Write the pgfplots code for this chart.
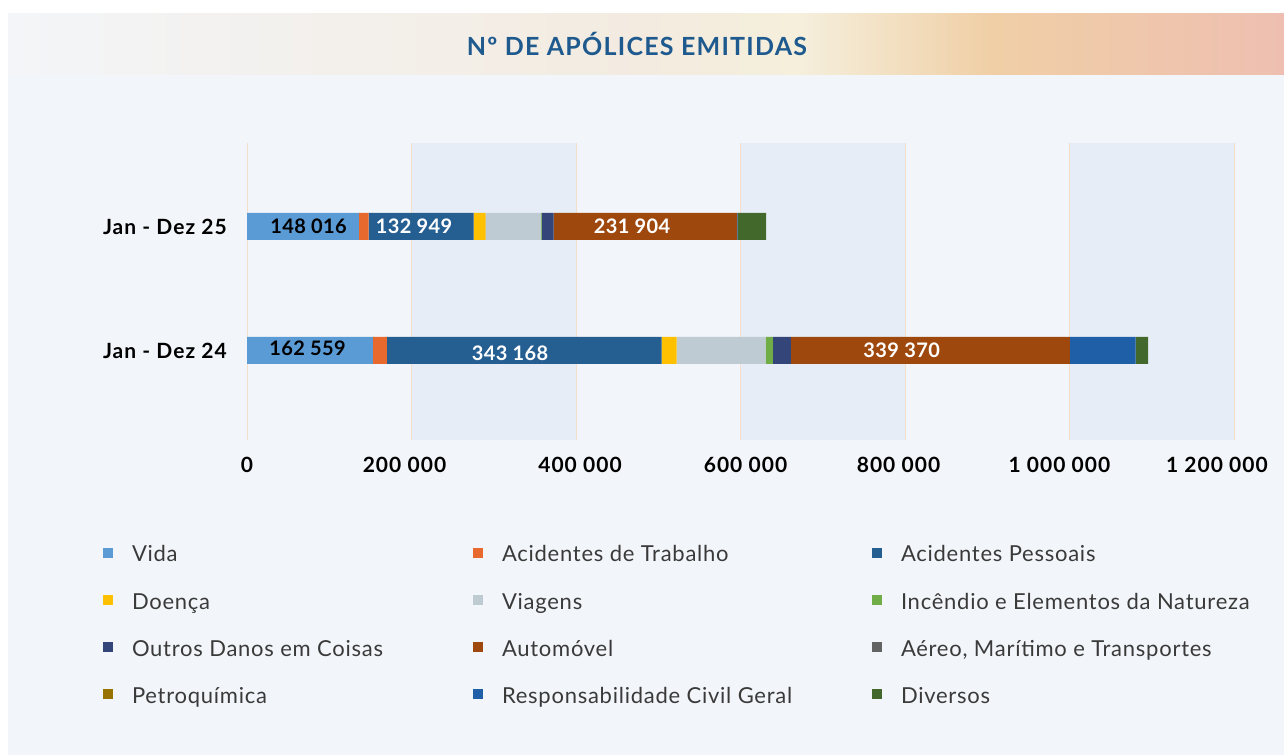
\documentclass[border=0pt]{standalone}
\usepackage{pgfplots}
\pgfplotsset{compat=1.18}
\usepackage{fontspec}
\setmainfont{Lato}[LetterSpace=3.4]
\newfontfamily\boldsp{Lato}[LetterSpace=5]
\newfontfamily\labsp{Lato}[LetterSpace=2]
\definecolor{panel}{HTML}{F2F5F9}
\definecolor{band}{HTML}{E6EDF6}
\definecolor{gridc}{HTML}{F4DDCB}
\definecolor{titlec}{HTML}{1F5A8F}
\definecolor{legtext}{HTML}{3A3A3A}
\definecolor{tA}{HTML}{F3F5F8}
\definecolor{tB}{HTML}{F3EBE0}
\definecolor{tC}{HTML}{F5EFDC}
\definecolor{tD}{HTML}{F0CFA6}
\definecolor{tE}{HTML}{EEBFB1}
\definecolor{cVida}{HTML}{5B9BD5}
\definecolor{cAT}{HTML}{E8692E}
\definecolor{cAP}{HTML}{255E91}
\definecolor{cDo}{HTML}{FFC000}
\definecolor{cVi}{HTML}{BFCBD2}
\definecolor{cIn}{HTML}{70AD47}
\definecolor{cOD}{HTML}{34457A}
\definecolor{cAu}{HTML}{9E480E}
\definecolor{cAe}{HTML}{636363}
\definecolor{cPe}{HTML}{997300}
\definecolor{cRC}{HTML}{1F5FA8}
\definecolor{cDi}{HTML}{43682B}
\newcommand\LA[1]{\makebox[341bp][l]{\rule[-6bp]{0pt}{26bp}#1}}
\newcommand\LB[1]{\makebox[370bp][l]{\rule[-6bp]{0pt}{26bp}#1}}
\newcommand\LC[1]{\rule[-6bp]{0pt}{26bp}#1}
\tikzset{lab/.style={font=\labsp\bfseries\fontsize{20bp}{24bp}\selectfont, inner sep=0pt, anchor=center}}
\begin{document}
\begin{tikzpicture}[x=1bp,y=1bp]
\fill[white] (0,0) rectangle (1284,755);
\fill[panel] (8,0) rectangle (1284,741);
\shade[left color=tA,right color=tB] (8,680) rectangle (640.5,741);
\shade[left color=tB,right color=tC] (640,680) rectangle (800.5,741);
\shade[left color=tC,right color=tD] (800,680) rectangle (990.5,741);
\shade[left color=tD,right color=tE] (990,680) rectangle (1284,741);
\node[font=\boldsp\bfseries\fontsize{25bp}{29bp}\selectfont, text=titlec] at (637,711) {Nº DE APÓLICES EMITIDAS};
% alternating bands and vertical grid lines of the plot area
\fill[band] (411.5,315) rectangle (576,612);
\fill[band] (740.5,315) rectangle (905,612);
\fill[band] (1069.5,315) rectangle (1234,612);
\foreach \g in {247,411.5,576,740.5,905,1069.5,1234}{
  \draw[gridc, line width=1bp] (\g,315) -- (\g,612);
}
\begin{axis}[
  at={(247bp,315bp)}, anchor=south west, scale only axis,
  width=987bp, height=297bp,
  xbar stacked, bar width=27bp,
  xmin=0, xmax=1200000, ymin=-0.722, ymax=1.673,
  axis line style={draw=none}, major tick length=0pt,
  xtick={0,200000,400000,600000,800000,1000000,1200000},
  xticklabels={0,
    200 000\hspace*{14bp},
    \hspace*{8bp}400 000,
    \hspace*{10bp}600 000,
    800 000\hspace*{13bp},
    1 000 000\hspace*{20bp},
    1 200 000\hspace*{34bp}},
  ytick={0,1}, yticklabels={Jan - Dez 24,Jan - Dez 25},
  xticklabel style={font=\boldsp\bfseries\fontsize{21bp}{25bp}\selectfont, inner sep=0pt, anchor=north, yshift=-17bp},
  yticklabel style={font=\boldsp\bfseries\fontsize{21bp}{25bp}\selectfont, inner sep=0pt, anchor=east, xshift=-20bp},
  scaled x ticks=false,
  legend columns=3,
  legend cell align=left,
  legend style={draw=none, fill=none, inner sep=0pt, outer sep=0pt,
    row sep=25.7bp, column sep=0pt,
    nodes={inner sep=0pt, text=legtext, font=\fontsize{22bp}{26bp}\selectfont},
    cells={anchor=west},
    at={(axis description cs:0,0)}, anchor=north west, xshift=-144bp, yshift=-102bp},
  legend image code/.code={\fill[#1] (0bp,-5bp) rectangle (10bp,5bp); \path (29bp,0bp);},
]
\addplot[fill=cVida, draw=none] coordinates {(153100,0) (136000,1)};
\addplot[fill=cAT, draw=none] coordinates {(17000,0) (12000,1)};
\addplot[fill=cAP, draw=none] coordinates {(334100,0) (127600,1)};
\addplot[fill=cDo, draw=none] coordinates {(18200,0) (14600,1)};
\addplot[fill=cVi, draw=none] coordinates {(108100,0) (66800,1)};
\addplot[fill=cIn, draw=none] coordinates {(8900,0) (1200,1)};
\addplot[fill=cOD, draw=none] coordinates {(21900,0) (14600,1)};
\addplot[fill=cAu, draw=none] coordinates {(339000,0) (223000,1)};
\addplot[fill=cAe, draw=none] coordinates {(0,0) (0,1)};
\addplot[fill=cPe, draw=none] coordinates {(0,0) (0,1)};
\addplot[fill=cRC, draw=none] coordinates {(80200,0) (600,1)};
\addplot[fill=cDi, draw=none] coordinates {(15000,0) (34600,1)};
\legend{\LA{Vida},\LB{Acidentes de Trabalho},\LC{Acidentes Pessoais},
  \LA{Doença},\LB{Viagens},\LC{Incêndio e Elementos da Natureza},
  \LA{Outros Danos em Coisas},\LB{Automóvel},\LC{Aéreo, Marítimo e Transportes},
  \LA{Petroquímica},\LB{Responsabilidade Civil Geral},\LC{Diversos}}
\end{axis}
% value labels of the bars
\node[lab, text=black] at (308.6,528.5) {148 016};
\node[lab, text=white] at (414,528.5) {132 949};
\node[lab, text=white] at (632,528.5) {231 904};
\node[lab, text=black] at (307.5,407) {162 559};
\node[lab, text=white] at (510,402) {343 168};
\node[lab, text=white] at (901.7,404.5) {339 370};
\pgfresetboundingbox
\path (0,0) rectangle (1284,755);
\end{tikzpicture}
\end{document}
